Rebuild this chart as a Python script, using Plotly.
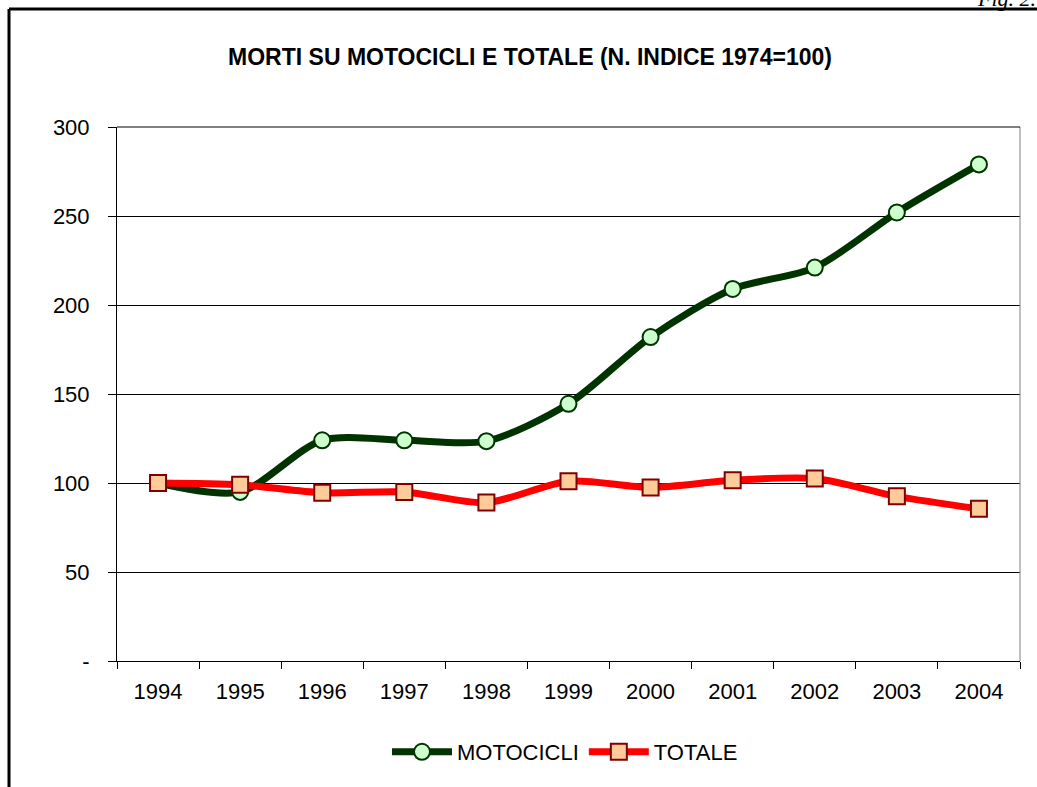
import plotly.graph_objects as go

years = ["1994", "1995", "1996", "1997", "1998", "1999", "2000", "2001", "2002", "2003", "2004"]
motocicli = [100, 95, 124, 124, 123.5, 144.5, 182, 209, 221, 252, 279]
totale = [100, 99, 94.5, 95, 89, 101, 97.5, 101.5, 102.5, 92.5, 85.5]
y_ticks = [0, 50, 100, 150, 200, 250, 300]
y_tick_labels = ["-", "50", "100", "150", "200", "250", "300"]

W, H = 1037, 787
L, R, T, B = 117, 1020, 127, 661

def px(x):
    return (x - L) / (R - L)

def py(y):
    return (B - y) / (B - T)

fig = go.Figure()
fig.add_trace(go.Scatter(
    x=years, y=motocicli, name="MOTOCICLI", mode="lines+markers",
    line=dict(color="#003300", width=7, shape="spline", smoothing=0.8),
    marker=dict(symbol="circle", size=16, color="#ccffcc", line=dict(color="#003300", width=2)),
))
fig.add_trace(go.Scatter(
    x=years, y=totale, name="TOTALE", mode="lines+markers",
    line=dict(color="#ff0000", width=7, shape="spline", smoothing=0.8),
    marker=dict(symbol="square", size=16, color="#ffcc99", line=dict(color="#800000", width=2)),
))

fig.update_layout(
    width=W, height=H,
    margin=dict(l=L, r=W - R, t=T, b=H - B, pad=0),
    paper_bgcolor="white", plot_bgcolor="white",
    font=dict(family="Liberation Sans, Arial, sans-serif", size=22, color="black"),
    title=dict(text="<b>MORTI SU MOTOCICLI E TOTALE (N. INDICE 1974=100)</b>",
               x=530 / W, xanchor="center", xref="container",
               y=1 - 57 / H, yanchor="middle", yref="container",
               font=dict(family="Liberation Sans, Arial, sans-serif", size=23, color="black")),
    showlegend=True,
    legend=dict(orientation="h", x=565 / W, xanchor="center", xref="container",
                y=1 - 752 / H, yanchor="middle", yref="container",
                font=dict(size=22), itemwidth=60, bgcolor="rgba(0,0,0,0)"),
    xaxis=dict(type="category", range=[-0.5, 10.5], showgrid=False,
               showline=True, linecolor="black", linewidth=1,
               ticks="outside", tickson="boundaries", ticklen=7, tickcolor="black",
               ticklabelstandoff=11,
               tickfont=dict(size=22), zeroline=False, fixedrange=True),
    yaxis=dict(range=[0, 300], tickvals=y_ticks, ticktext=y_tick_labels,
               showgrid=True, gridcolor="black", gridwidth=1,
               showline=True, linecolor="black", linewidth=1,
               ticks="outside", ticklen=8, tickcolor="black",
               ticklabelstandoff=14,
               tickfont=dict(size=22), zeroline=False, fixedrange=True),
)

# right border of plot area (gray)
fig.add_shape(type="line", xref="paper", yref="paper", x0=1, x1=1, y0=0, y1=1,
              line=dict(color="#808080", width=1))
fig.add_shape(type="line", xref="paper", yref="paper", x0=0, x1=1, y0=1, y1=1,
              line=dict(color="black", width=1))
# outer frame
fig.add_shape(type="line", xref="paper", yref="paper", x0=px(9), x1=px(9), y0=py(H + 5), y1=py(9),
              line=dict(color="black", width=3))
fig.add_shape(type="line", xref="paper", yref="paper", x0=px(9), x1=px(W + 5), y0=py(9), y1=py(9),
              line=dict(color="black", width=3))

fig.add_annotation(text="<i>Fig. 2.7</i>", xref="paper", yref="paper",
                   x=px(1050), y=py(13), xanchor="right", yanchor="bottom",
                   showarrow=False,
                   font=dict(family="Liberation Serif, Times New Roman, serif", size=22, color="black"))

fig.write_html("out.html", config={"displayModeBar": False},
               post_script="document.body.style.margin='0';document.body.style.overflow='hidden';")
